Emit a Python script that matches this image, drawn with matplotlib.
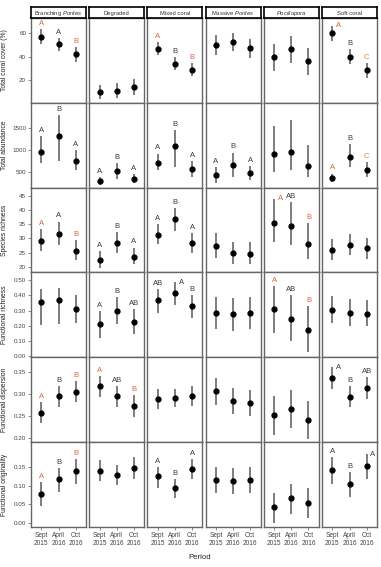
import numpy as np
import matplotlib.pyplot as plt

plt.rcParams["font.family"] = ["Liberation Sans", "DejaVu Sans"]
plt.rcParams["mathtext.fontset"] = "custom"
plt.rcParams["mathtext.it"] = "Liberation Sans:italic"
plt.rcParams["mathtext.rm"] = "Liberation Sans"

# habitats (columns) and response variables (rows)
habitats = [r"Branching $\it{Porites}$", "Degraded", "Mixed coral",
            r"Massive $\it{Porites}$", r"$\it{Pocillopora}$", "Soft coral"]
periods = ["Sept\n2015", "April\n2016", "Oct\n2016"]
metrics = ["Total coral cover (%)", "Total abundance", "Species richness",
           "Functional richness", "Functional dispersion", "Functional originality"]

# mean, lower and upper bound per habitat x period
cover_mean = [[57.1, 51.0, 42.3], [10.1, 11.3, 14.2], [46.7, 33.6, 28.7],
              [50.1, 52.2, 47.2], [39.7, 46.7, 36.2], [60.0, 40.0, 28.7]]
cover_lo = [[50.7, 45.0, 35.4], [4.0, 5.0, 7.8], [41.2, 29.0, 23.8],
            [41.7, 44.6, 38.8], [28.4, 35.1, 24.6], [53.3, 33.6, 22.0]]
cover_hi = [[63.5, 55.7, 48.4], [16.5, 17.4, 20.9], [52.8, 39.7, 34.5],
            [58.3, 60.3, 55.4], [51.0, 57.7, 47.2], [66.4, 46.4, 34.8]]

abund_mean = [[963, 1313, 746], [284, 522, 336], [709, 1097, 567],
              [418, 649, 463], [896, 955, 627], [358, 836, 545]]
abund_lo = [[694, 739, 530], [194, 328, 239], [530, 604, 381],
            [246, 381, 306], [493, 545, 381], [269, 604, 381]]
abund_hi = [[1328, 1798, 1007], [381, 701, 448], [918, 1463, 739],
            [604, 940, 627], [1552, 1687, 1104], [455, 1127, 731]]

rich_mean = [[29.2, 31.7, 25.6], [22.5, 28.3, 23.6], [31.4, 36.8, 28.3],
             [27.2, 24.8, 24.6], [35.5, 34.5, 28.2], [26.1, 27.7, 26.5]]
rich_lo = [[25.7, 27.7, 22.3], [19.7, 24.9, 20.8], [27.9, 32.8, 24.9],
           [23.1, 20.8, 20.8], [28.6, 27.6, 22.6], [22.5, 24.2, 22.8]]
rich_hi = [[33.2, 36.0, 29.3], [25.7, 32.4, 26.8], [35.1, 40.8, 32.0],
           [32.0, 28.7, 28.7], [44.0, 42.9, 35.5], [29.7, 31.6, 30.2]]

fric_mean = [[0.358, 0.366, 0.310], [0.213, 0.300, 0.228], [0.366, 0.414, 0.328],
             [0.283, 0.276, 0.283], [0.310, 0.246, 0.175], [0.304, 0.287, 0.280]]
fric_lo = [[0.205, 0.210, 0.220], [0.123, 0.209, 0.144], [0.285, 0.338, 0.252],
           [0.177, 0.166, 0.177], [0.155, 0.097, 0.026], [0.220, 0.198, 0.196]]
fric_hi = [[0.442, 0.450, 0.399], [0.295, 0.386, 0.312], [0.440, 0.485, 0.403],
           [0.388, 0.382, 0.388], [0.461, 0.399, 0.328], [0.392, 0.375, 0.367]]

fdis_mean = [[0.258, 0.295, 0.305], [0.318, 0.295, 0.272], [0.289, 0.291, 0.296],
             [0.306, 0.285, 0.280], [0.252, 0.265, 0.242], [0.336, 0.294, 0.315]]
fdis_lo = [[0.234, 0.271, 0.282], [0.293, 0.271, 0.248], [0.266, 0.270, 0.274],
           [0.276, 0.254, 0.250], [0.208, 0.222, 0.198], [0.311, 0.270, 0.289]]
fdis_hi = [[0.282, 0.318, 0.330], [0.342, 0.318, 0.297], [0.312, 0.312, 0.318],
           [0.337, 0.314, 0.310], [0.295, 0.309, 0.284], [0.361, 0.318, 0.338]]

fori_mean = [[0.078, 0.117, 0.139], [0.141, 0.130, 0.147], [0.125, 0.093, 0.146],
             [0.116, 0.113, 0.115], [0.042, 0.066, 0.055], [0.142, 0.104, 0.153]]
fori_lo = [[0.046, 0.083, 0.106], [0.113, 0.102, 0.119], [0.095, 0.067, 0.118],
           [0.081, 0.079, 0.081], [0.000, 0.025, 0.014], [0.106, 0.071, 0.119]]
fori_hi = [[0.109, 0.148, 0.171], [0.168, 0.157, 0.176], [0.150, 0.119, 0.171],
           [0.151, 0.148, 0.151], [0.081, 0.106, 0.095], [0.176, 0.136, 0.185]]

means = [cover_mean, abund_mean, rich_mean, fric_mean, fdis_mean, fori_mean]
lows = [cover_lo, abund_lo, rich_lo, fric_lo, fdis_lo, fori_lo]
highs = [cover_hi, abund_hi, rich_hi, fric_hi, fdis_hi, fori_hi]

# post-hoc letters; colour code r = red, k = dark, o = orange
letters = [
    [["A", "A", "B"], [], ["A", "B", "B"], [], [], ["A", "B", "C"]],
    [["A", "B", "A"], ["A", "B", "A"], ["A", "B", "A"], ["A", "B", "A"], [], ["A", "B", "C"]],
    [["A", "A", "B"], ["A", "B", "A"], ["A", "B", "A"], [], ["A", "AB", "B"], []],
    [[], ["A", "B", "AB"], ["AB", "A", "B"], [], ["A", "AB", "B"], []],
    [["A", "B", "B"], ["A", "AB", "B"], [], [], [], ["A", "B", "AB"]],
    [["A", "B", "B"], [], ["A", "B", "A"], [], [], ["A", "B", "A"]],
]
letter_cols = [
    ["rkr", "", "rkr", "", "", "rko"],
    ["kkk", "kkk", "kkk", "kkk", "", "rko"],
    ["rkr", "kkk", "kkk", "", "rkr", ""],
    ["", "kkk", "kkk", "", "rkr", ""],
    ["rkr", "rkr", "", "", "", "kkk"],
    ["rkr", "", "kkk", "", "", "kkk"],
]
# letters drawn beside the bar top instead of above it: (row, col, period)
side_letters = {(0, 5, 0), (2, 4, 0), (3, 2, 1), (4, 5, 0), (5, 5, 2)}

yticks = [[20, 40, 60], [500, 1000, 1500], [20, 25, 30, 35, 40, 45],
          [0.0, 0.1, 0.2, 0.3, 0.4, 0.5], [0.20, 0.25, 0.30, 0.35],
          [0.00, 0.05, 0.10, 0.15]]
ylims = [(1, 73), (130, 2090), (18, 48), (-0.006, 0.55), (0.191, 0.384), (-0.01, 0.2175)]
yfmt = ["{:.0f}", "{:.0f}", "{:.0f}", "{:.2f}", "{:.2f}", "{:.2f}"]

cmap = {"r": "#d9604a", "k": "#3a3a3a", "o": "#dc8a3c"}

W, H = 381, 567
fig = plt.figure(figsize=(W / 100, H / 100), dpi=100)

x0, pw, gap = 31, 55, 3.2
ytop, ph = 18, 84.8
x = np.arange(1, 4)

for r in range(6):
    for c in range(6):
        left = (x0 + c * (pw + gap)) / W
        bottom = 1 - (ytop + (r + 1) * ph) / H
        ax = fig.add_axes([left, bottom, pw / W, ph / H])
        m = np.array(means[r][c], float)
        lo = np.array(lows[r][c], float)
        hi = np.array(highs[r][c], float)
        ax.vlines(x, lo, hi, color="#7d7d7d", lw=1.4, zorder=2)
        ax.plot(x, m, "o", color="black", ms=3.5, zorder=3)
        ax.set_xlim(0.4, 3.6)
        ax.set_ylim(*ylims[r])
        ax.set_xticks(x)
        ax.set_yticks(yticks[r])
        ax.tick_params(length=2, width=0.6, color="#777", pad=1.5,
                       labelsize=4.5, labelcolor="#444")
        if c == 0:
            ax.set_yticklabels([yfmt[r].format(v) for v in yticks[r]])
            ax.set_ylabel(metrics[r], fontsize=4.9, color="#222")
            ax.yaxis.set_label_coords(-0.42, 0.5)
        else:
            ax.tick_params(axis="y", left=False, labelleft=False)
        if r == 5:
            ax.set_xticklabels(periods, fontsize=4.7, linespacing=1.25)
        else:
            ax.set_xticklabels([])
        for s in ax.spines.values():
            s.set_color("#666")
            s.set_linewidth(1.0)

        for i, lab in enumerate(letters[r][c]):
            col = cmap[letter_cols[r][c][i]]
            if (r, c, i) in side_letters:
                ax.annotate(lab, (x[i], hi[i]), xytext=(4.5, 0), textcoords="offset points",
                            ha="center", va="center", fontsize=5.5, color=col)
            else:
                ax.annotate(lab, (x[i], hi[i]), xytext=(0, 1.5), textcoords="offset points",
                            ha="center", va="bottom", fontsize=5.5, color=col)

        if r == 0:
            sax = fig.add_axes([left, 1 - ytop / H, pw / W, 11 / H])
            sax.set_xticks([])
            sax.set_yticks([])
            for s in sax.spines.values():
                s.set_color("black")
                s.set_linewidth(1.2)
            sax.text(0.5, 0.45, habitats[c], ha="center", va="center",
                     fontsize=4.2, color="#333", transform=sax.transAxes)

fig.text(0.525, 0.017, "Period", ha="center", va="center", fontsize=5.6, color="#222")

fig.savefig("out.png", dpi=100)
